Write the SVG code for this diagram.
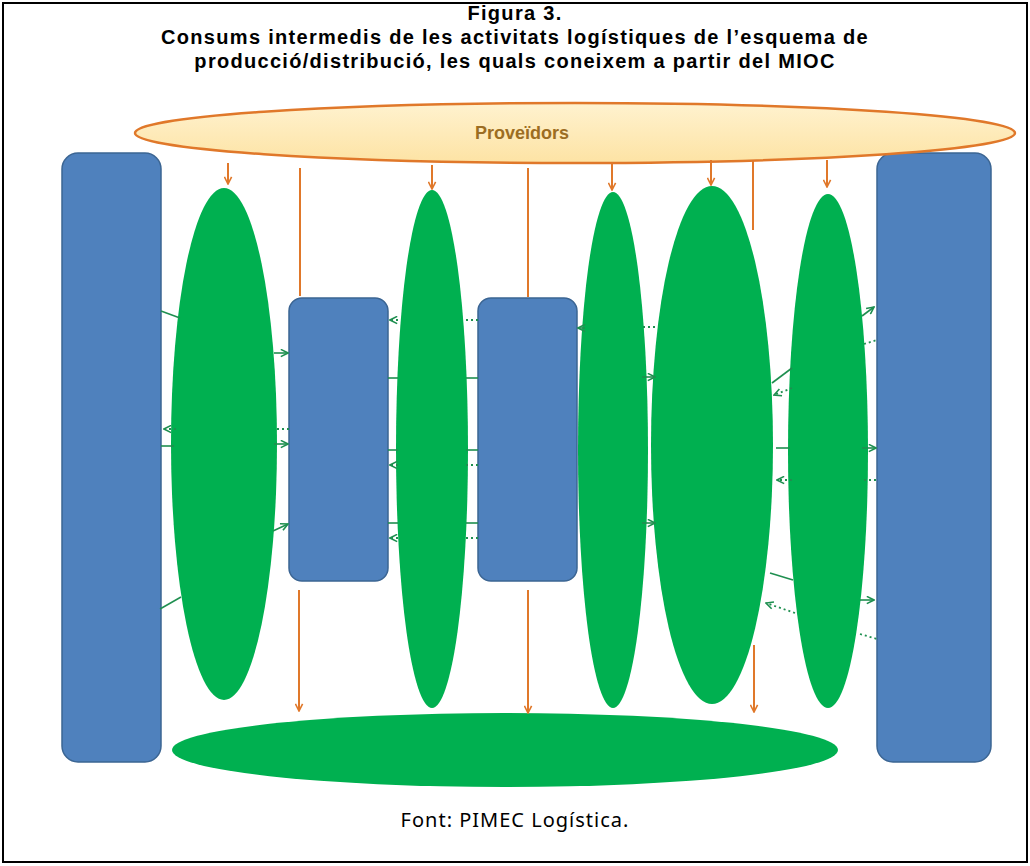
<svg xmlns="http://www.w3.org/2000/svg" width="1030" height="866" viewBox="0 0 1030 866">
<defs>
<linearGradient id="gy" x1="0" y1="0" x2="0" y2="1">
<stop offset="0" stop-color="#fff2cf"/>
<stop offset="1" stop-color="#fde3a4"/>
</linearGradient>
<marker id="ao" viewBox="0 0 10 10" refX="9" refY="5" markerWidth="9" markerHeight="9" orient="auto" markerUnits="userSpaceOnUse">
<path d="M1,1 L9,5 L1,9" fill="none" stroke="#e0782a" stroke-width="1.8"/>
</marker>
<marker id="ag" viewBox="0 0 10 10" refX="9" refY="5" markerWidth="9" markerHeight="9" orient="auto" markerUnits="userSpaceOnUse">
<path d="M1,1 L9,5 L1,9" fill="none" stroke="#1f8f50" stroke-width="1.8"/>
</marker>
</defs>
<style>
.ttl{font-family:"Liberation Sans",Arial,sans-serif;font-weight:bold;font-size:20px;letter-spacing:1.3px;fill:#000;text-anchor:middle}
.ftr{font-family:"Noto Sans","Liberation Sans",sans-serif;font-size:20px;letter-spacing:1px;fill:#000;text-anchor:middle}
.blue{fill:#4f81bd;stroke:#3b6593;stroke-width:1.5}
.grn{fill:#00b050}
.or{stroke:#e0782a;stroke-width:2;fill:none}
.gs{stroke:#1f8f50;stroke-width:1.6;fill:none}
.gd{stroke:#1f8f50;stroke-width:1.8;fill:none;stroke-dasharray:2 3}
</style>
<rect x="0" y="0" width="1030" height="866" fill="#fff"/>
<rect x="3" y="3" width="1024" height="859" fill="none" stroke="#000" stroke-width="2"/>
<g id="title">
<text class="ttl" x="515" y="20">Figura 3.</text>
<text class="ttl" x="515" y="44">Consums intermedis de les activitats logístiques de l’esquema de</text>
<text class="ttl" x="515" y="68">producció/distribució, les quals coneixem a partir del MIOC</text>
</g>
<g id="left-block"><rect class="blue" x="62" y="153" width="99" height="609" rx="16"/></g>
<g id="right-block"><rect class="blue" x="877" y="153" width="114" height="609" rx="16"/></g>
<g id="mid-block-1"><rect class="blue" x="289" y="298" width="99" height="283" rx="13"/></g>
<g id="mid-block-2"><rect class="blue" x="478" y="298" width="99" height="283" rx="13"/></g>
<g id="activity-1"><ellipse class="grn" cx="224" cy="444" rx="53" ry="256"/></g>
<g id="activity-2"><ellipse class="grn" cx="432" cy="449" rx="36" ry="259"/></g>
<g id="activity-3"><ellipse class="grn" cx="613" cy="450" rx="35" ry="258"/></g>
<g id="activity-4"><ellipse class="grn" cx="712" cy="445" rx="61" ry="259"/></g>
<g id="activity-5"><ellipse class="grn" cx="828" cy="451" rx="40" ry="257"/></g>
<g id="bottom-ellipse"><ellipse class="grn" cx="505" cy="750" rx="333" ry="37"/></g>
<g id="proveidors">
<ellipse cx="575" cy="133" rx="440" ry="30" fill="url(#gy)" stroke="#e0782a" stroke-width="2.5"/>
<text x="522" y="139" font-family="Liberation Sans, Arial, sans-serif" font-size="18" font-weight="bold" fill="#9c6d22" text-anchor="middle">Proveïdors</text>
</g>
<g id="connectors">
<line class="or" x1="228" y1="163" x2="228" y2="184" marker-end="url(#ao)"/>
<line class="or" x1="300" y1="168" x2="300" y2="296"/>
<line class="or" x1="432" y1="165" x2="432" y2="189" marker-end="url(#ao)"/>
<line class="or" x1="528" y1="168" x2="528" y2="297"/>
<line class="or" x1="612" y1="163" x2="612" y2="190" marker-end="url(#ao)"/>
<line class="or" x1="711" y1="160" x2="711" y2="185" marker-end="url(#ao)"/>
<line class="or" x1="753" y1="160" x2="753" y2="230"/>
<line class="or" x1="827" y1="160" x2="827" y2="187" marker-end="url(#ao)"/>
<line class="or" x1="299" y1="590" x2="299" y2="711" marker-end="url(#ao)"/>
<line class="or" x1="528" y1="590" x2="528" y2="713" marker-end="url(#ao)"/>
<line class="or" x1="754" y1="645" x2="754" y2="712" marker-end="url(#ao)"/>
<line class="gs" x1="161" y1="311" x2="180" y2="318"/>
<line class="gd" x1="176" y1="429" x2="164" y2="429" marker-end="url(#ag)"/>
<line class="gs" x1="161" y1="446" x2="174" y2="446"/>
<line class="gs" x1="160" y1="609" x2="181" y2="597"/>
<line class="gs" x1="274" y1="353" x2="288" y2="353" marker-end="url(#ag)"/>
<line class="gd" x1="277" y1="429" x2="289" y2="429"/>
<line class="gs" x1="274" y1="444" x2="288" y2="444" marker-end="url(#ag)"/>
<line class="gs" x1="273" y1="531" x2="288" y2="524" marker-end="url(#ag)"/>
<line class="gd" x1="398" y1="320" x2="390" y2="320" marker-end="url(#ag)"/>
<line class="gs" x1="388" y1="378" x2="398" y2="378"/>
<line class="gs" x1="388" y1="450" x2="398" y2="450"/>
<line class="gd" x1="398" y1="465" x2="390" y2="465" marker-end="url(#ag)"/>
<line class="gs" x1="388" y1="523" x2="398" y2="523"/>
<line class="gd" x1="398" y1="538" x2="390" y2="538" marker-end="url(#ag)"/>
<line class="gd" x1="466" y1="320" x2="478" y2="320"/>
<line class="gs" x1="466" y1="378" x2="478" y2="378"/>
<line class="gs" x1="466" y1="450" x2="478" y2="450"/>
<line class="gd" x1="466" y1="465" x2="478" y2="465"/>
<line class="gs" x1="466" y1="523" x2="478" y2="523"/>
<line class="gd" x1="466" y1="538" x2="478" y2="538"/>
<line class="gs" x1="585" y1="328" x2="578" y2="328" marker-end="url(#ag)"/>
<line class="gd" x1="643" y1="327" x2="657" y2="327"/>
<line class="gs" x1="642" y1="377" x2="655" y2="377" marker-end="url(#ag)"/>
<line class="gs" x1="642" y1="523" x2="655" y2="523" marker-end="url(#ag)"/>
<line class="gs" x1="772" y1="383" x2="792" y2="368"/>
<line class="gd" x1="792" y1="388" x2="774" y2="395" marker-end="url(#ag)"/>
<line class="gs" x1="776" y1="448" x2="790" y2="448"/>
<line class="gd" x1="792" y1="480" x2="777" y2="480" marker-end="url(#ag)"/>
<line class="gs" x1="770" y1="573" x2="793" y2="580"/>
<line class="gd" x1="795" y1="613" x2="766" y2="603" marker-end="url(#ag)"/>
<line class="gs" x1="862" y1="316" x2="874" y2="307" marker-end="url(#ag)"/>
<line class="gd" x1="864" y1="344" x2="877" y2="340"/>
<line class="gs" x1="862" y1="448" x2="876" y2="448" marker-end="url(#ag)"/>
<line class="gd" x1="864" y1="480" x2="877" y2="480"/>
<line class="gs" x1="860" y1="600" x2="874" y2="600" marker-end="url(#ag)"/>
<line class="gd" x1="860" y1="634" x2="877" y2="639"/>
</g>
<g id="footer"><text class="ftr" x="515" y="827">Font: PIMEC Logística.</text></g>
</svg>
